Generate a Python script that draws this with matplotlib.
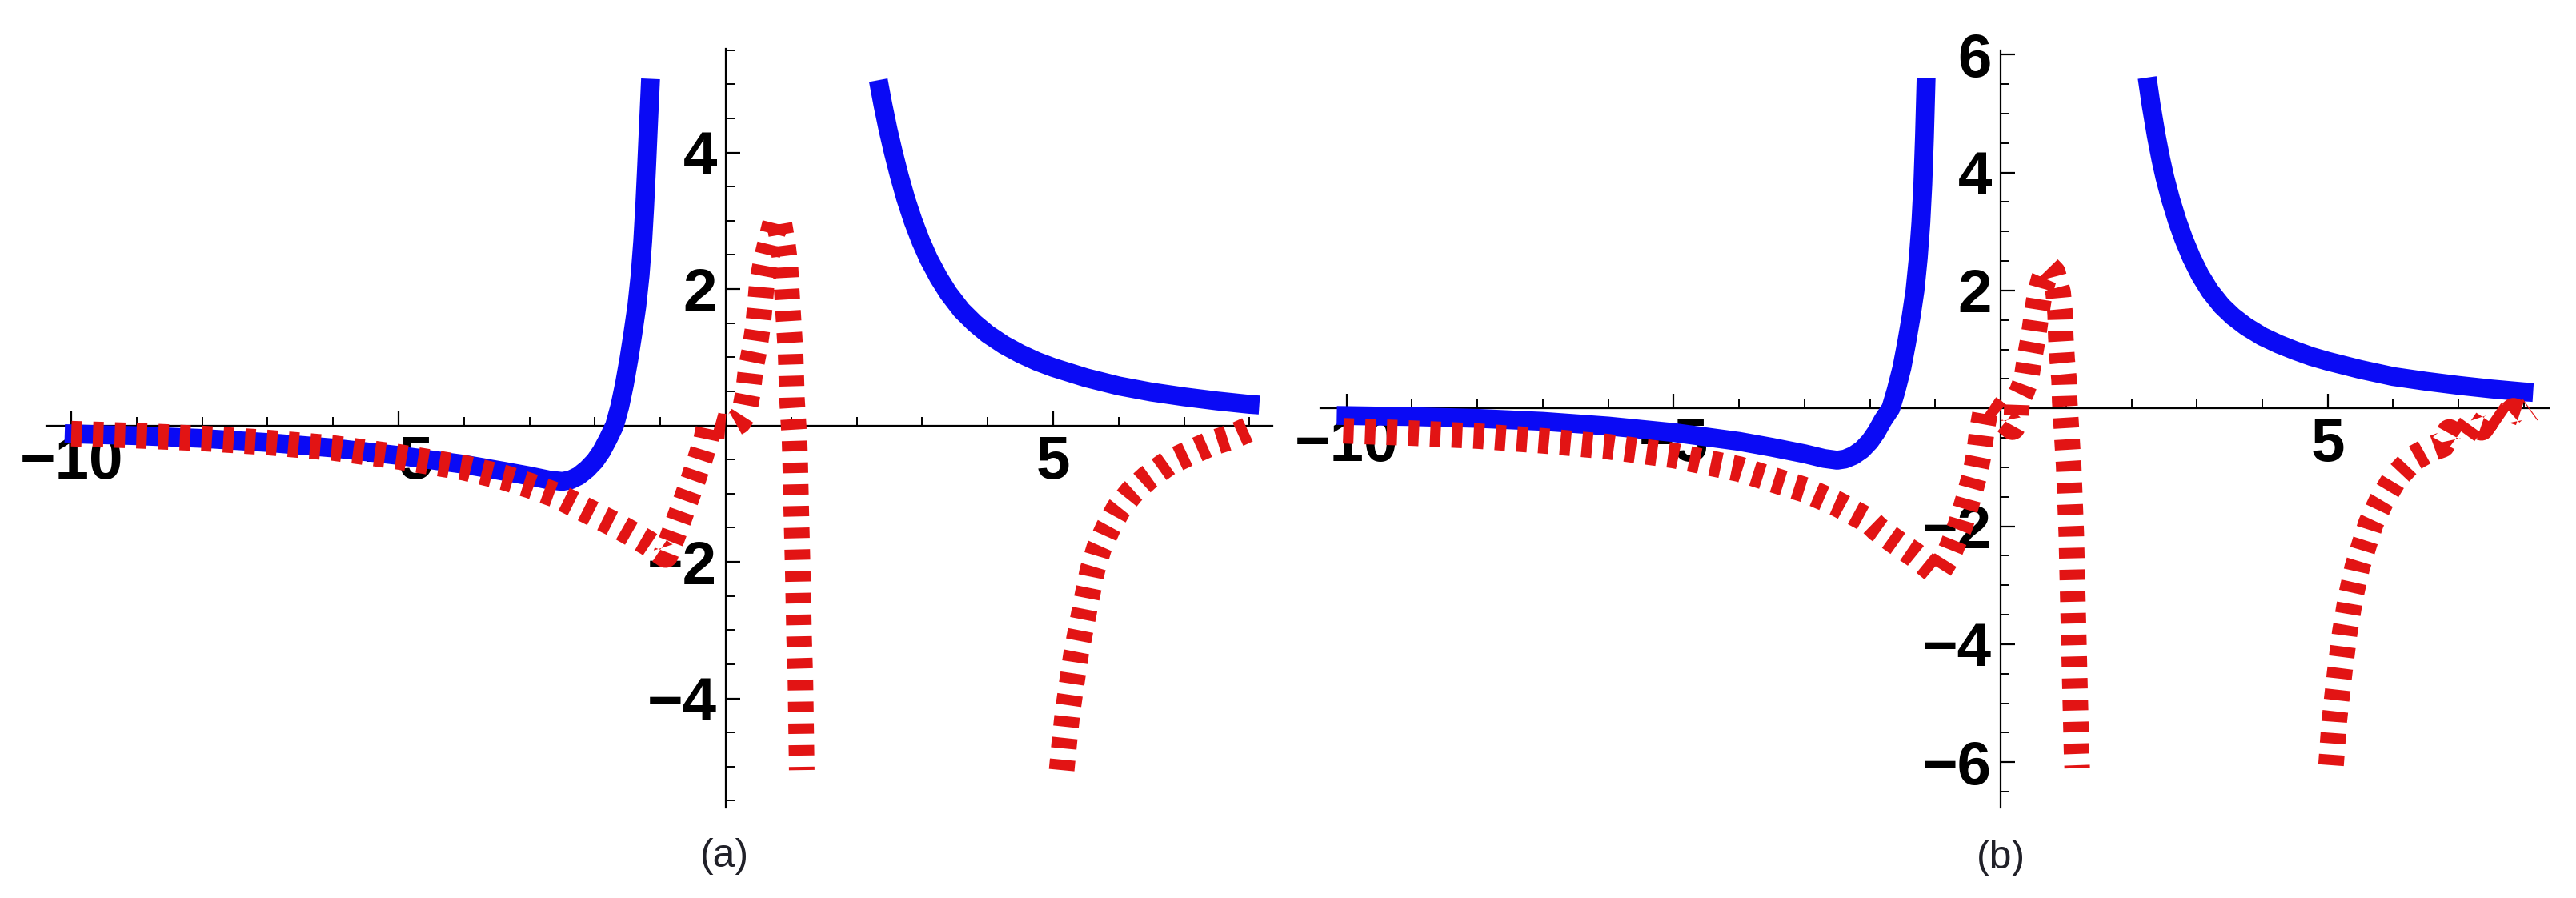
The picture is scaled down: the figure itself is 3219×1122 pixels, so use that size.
import matplotlib.pyplot as plt
from matplotlib.ticker import FixedLocator

# ---- panel (a) data ----
a_blue1_x = [-10.1, -9, -8, -7, -6, -5, -4, -3.4, -3.0, -2.7, -2.5, -2.38, -2.25, -2.12,
             -2.0, -1.9, -1.8, -1.7, -1.62, -1.55, -1.48, -1.42, -1.36, -1.31, -1.27,
             -1.24, -1.21, -1.18, -1.15]
a_blue1_y = [-0.12, -0.15, -0.19, -0.25, -0.33, -0.44, -0.57, -0.67, -0.74, -0.8, -0.82,
             -0.8, -0.74, -0.64, -0.52, -0.38, -0.2, 0.0, 0.28, 0.6, 0.98, 1.35, 1.75,
             2.2, 2.7, 3.2, 3.8, 4.45, 5.08]
a_blue2_x = [2.33, 2.4, 2.48, 2.56, 2.65, 2.75, 2.86, 2.98, 3.1, 3.25, 3.4, 3.6, 3.8,
             4.0, 4.25, 4.5, 4.75, 5.0, 5.5, 6.0, 6.5, 7.0, 7.5, 8.0, 8.15]
a_blue2_y = [5.06, 4.7, 4.33, 4.0, 3.66, 3.32, 3.0, 2.7, 2.44, 2.17, 1.94, 1.69, 1.5,
             1.34, 1.18, 1.05, 0.94, 0.85, 0.7, 0.58, 0.49, 0.42, 0.36, 0.31, 0.3]
a_red1_x = [-10.0, -9, -8, -7, -6, -5, -4, -3.4, -3.0, -2.6, -2.1, -1.6, -1.2, -0.92,
            -0.8, -0.65, -0.5, -0.38, -0.3, -0.25, -0.1, 0.05, 0.2, 0.28, 0.34, 0.38,
            0.44, 0.49, 0.52, 0.55, 0.61, 0.69, 0.77, 0.82, 0.87, 0.91, 0.93, 0.95,
            0.97, 0.99, 1.0, 1.01, 1.03, 1.05, 1.06, 1.075, 1.10, 1.12, 1.14, 1.15, 1.16]
a_red1_y = [-0.12, -0.15, -0.19, -0.25, -0.33, -0.46, -0.62, -0.76, -0.88, -1.02, -1.26,
            -1.5, -1.72, -1.9, -1.6, -1.2, -0.8, -0.45, -0.2, 0.03, -0.01, -0.02, 0.06,
            0.18, 0.49, 0.83, 1.12, 1.45, 1.75, 2.09, 2.4, 2.72, 3.03, 2.95, 2.67, 2.36,
            2.0, 1.68, 1.37, 1.05, 0.74, 0.40, 0.09, -0.22, -0.54, -1.2, -2.16, -3.11,
            -3.75, -4.4, -5.05]
a_red2_x = [5.13, 5.17, 5.22, 5.28, 5.35, 5.43, 5.52, 5.6, 5.7, 5.84, 6.0, 6.2, 6.44,
            6.76, 7.09, 7.42, 7.75, 8.0]
a_red2_y = [-5.05, -4.65, -4.2, -3.8, -3.35, -2.95, -2.5, -2.12, -1.8, -1.5, -1.22,
            -0.98, -0.77, -0.55, -0.40, -0.26, -0.16, -0.05]

# ---- panel (b) data ----
b_blue1_x = [-10.15, -9, -8, -7, -6, -5, -4, -3.5, -3.0, -2.7, -2.5, -2.38, -2.25,
             -2.12, -2.0, -1.9, -1.8, -1.68, -1.6, -1.51, -1.44, -1.37, -1.31, -1.26,
             -1.22, -1.19, -1.165, -1.14]
b_blue1_y = [-0.12, -0.14, -0.17, -0.22, -0.3, -0.41, -0.56, -0.66, -0.77, -0.85, -0.88,
             -0.86, -0.8, -0.7, -0.56, -0.4, -0.2, 0.0, 0.3, 0.69, 1.1, 1.55, 2.0, 2.55,
             3.15, 3.8, 4.6, 5.6]
b_blue2_x = [2.24, 2.3, 2.38, 2.45, 2.51, 2.6, 2.7, 2.8, 2.92, 3.05, 3.2, 3.38, 3.55,
             3.75, 4.0, 4.25, 4.5, 4.75, 5.0, 5.5, 6.0, 6.5, 7.0, 7.5, 8.0, 8.14]
b_blue2_y = [5.61, 5.15, 4.62, 4.22, 3.92, 3.54, 3.18, 2.87, 2.55, 2.26, 1.99, 1.74,
             1.56, 1.39, 1.22, 1.09, 0.98, 0.88, 0.8, 0.66, 0.54, 0.46, 0.39, 0.33,
             0.28, 0.27]
b_red1_x = [-10.05, -9, -8, -7, -6, -5, -4, -3, -2.5, -2.0, -1.88, -1.55, -1.31, -1.1,
            -0.97, -0.8, -0.62, -0.5, -0.39, -0.33, -0.29, -0.22, -0.1, 0.05, 0.18,
            0.24, 0.25, 0.33, 0.39, 0.44, 0.5, 0.55, 0.6, 0.66, 0.73, 0.8, 0.88, 0.91,
            0.92, 0.94, 0.97, 0.98, 1.0, 1.02, 1.04, 1.08, 1.12, 1.16, 1.17]
b_red1_y = [-0.38, -0.42, -0.47, -0.55, -0.65, -0.8, -1.03, -1.38, -1.62, -1.92, -2.05,
            -2.31, -2.49, -2.68, -2.8, -2.5, -2.0, -1.55, -1.1, -0.76, -0.4, 0.04,
            -0.05, -0.2, -0.32, -0.2, 0.12, 0.3, 0.48, 0.84, 1.21, 1.6, 1.96, 2.2,
            2.38, 2.3, 1.96, 1.6, 1.21, 0.84, 0.48, 0.12, -0.24, -0.61, -0.97, -2.12,
            -4.0, -5.8, -6.1]
b_red2_x = [5.05, 5.1, 5.18, 5.26, 5.35, 5.45, 5.56, 5.66, 5.82, 6.03, 6.31, 6.55,
            6.75, 6.86, 7.02, 7.19, 7.35, 7.51, 7.68, 7.84, 8.0, 8.1]
b_red2_y = [-6.05, -5.3, -4.5, -3.8, -3.2, -2.7, -2.3, -1.95, -1.57, -1.18, -0.85,
            -0.7, -0.62, -0.4, -0.53, -0.27, -0.33, -0.07, -0.2, -0.04, -0.1, -0.02]

BLUE = '#0a0af5'
RED = '#e21414'
W, H = 3219, 1122


def style_axes(ax, xlim, ylim, yticks_major, ymin_minor, ymax_minor):
    ax.set_xlim(*xlim)
    ax.set_ylim(*ylim)
    ax.set_axisbelow(True)
    for s in ['top', 'right']:
        ax.spines[s].set_visible(False)
    ax.spines['left'].set_position(('data', 0))
    ax.spines['bottom'].set_position(('data', 0))
    for s in ['left', 'bottom']:
        ax.spines[s].set_linewidth(1.6)
    ax.xaxis.set_major_locator(FixedLocator([-10, -5, 5]))
    ax.xaxis.set_minor_locator(FixedLocator([v for v in range(-10, 9) if v not in (-10, -5, 0, 5)]))
    ax.yaxis.set_major_locator(FixedLocator(yticks_major))
    minors = []
    v = ymin_minor
    while v <= ymax_minor + 1e-9:
        if abs(v) > 1e-9 and round(v, 2) not in yticks_major:
            minors.append(v)
        v += 0.5
    ax.yaxis.set_minor_locator(FixedLocator(minors))
    ax.tick_params(which='major', direction='in', length=13, width=1.6, pad=8,
                   labelsize=55)
    ax.tick_params(which='minor', direction='in', length=8, width=1.4)
    for lab in ax.get_xticklabels() + ax.get_yticklabels():
        lab.set_fontweight('bold')
        lab.set_family('Liberation Sans')
    ax.patch.set_alpha(0)


def draw_curves(ax, blues, reds):
    for xs, ys in blues:
        ax.plot(xs, ys, color=BLUE, lw=17, solid_capstyle='butt',
                solid_joinstyle='round', zorder=3)
    for xs, ys in reds:
        ax.plot(xs, ys, color=RED, lw=23, linestyle=(0, (0.41, 0.44)),
                dash_capstyle='butt', dash_joinstyle='round', zorder=4)


fig = plt.figure(figsize=(W / 100, H / 100), dpi=100)

ax_a = fig.add_axes([58 / W, 1 - 1009 / H, 1532 / W, 948 / H])
draw_curves(ax_a, [(a_blue1_x, a_blue1_y), (a_blue2_x, a_blue2_y)],
            [(a_red1_x, a_red1_y), (a_red2_x, a_red2_y)])
style_axes(ax_a, (-10.38, 8.35), (-5.6, 5.52), [-4, -2, 2, 4], -5.5, 5.5)

ax_b = fig.add_axes([1650 / W, 1 - 1009 / H, 1535 / W, 946 / H])
draw_curves(ax_b, [(b_blue1_x, b_blue1_y), (b_blue2_x, b_blue2_y)],
            [(b_red1_x, b_red1_y), (b_red2_x, b_red2_y)])
style_axes(ax_b, (-10.4, 8.38), (-6.77, 6.07), [-6, -4, -2, 2, 4, 6], -6.5, 6.0)

fig.text(905 / W, 1 - 1070 / H, '(a)', ha='center', va='center', fontsize=36,
         family='Liberation Sans', color='#202028')
fig.text(2500 / W, 1 - 1072 / H, '(b)', ha='center', va='center', fontsize=36,
         family='Liberation Sans', color='#202028')

fig.savefig('out.png', dpi=100)
